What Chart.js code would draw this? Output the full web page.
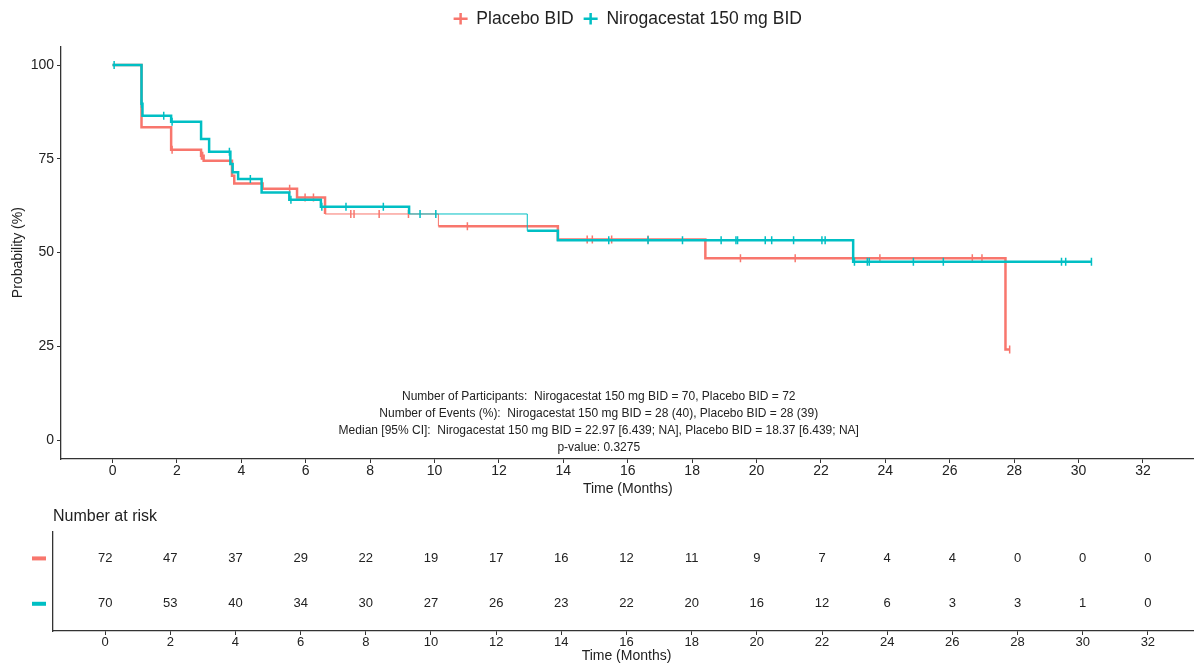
<!DOCTYPE html>
<html lang="en">
<head>
<meta charset="UTF-8">
<title>Kaplan-Meier: Nirogacestat vs Placebo</title>
<script src="https://cdn.jsdelivr.net/npm/chart.js"></script>
<style>
  html, body { margin: 0; padding: 0; background: #fff; overflow: hidden; }
  #wrap { position: relative; width: 1200px; height: 666px; }
  #kmChart { position: absolute; left: 0; top: 0; }
  #riskChart { position: absolute; left: 0; top: 500px; }
</style>
</head>
<body>
<div id="wrap">
  <canvas id="kmChart" width="1200" height="500"></canvas>
  <canvas id="riskChart" width="1200" height="166"></canvas>
</div>
<script>
// KM steps: time (months) and survival (%)
const placeboTimes = [0, 0.9, 1.82, 2.75, 2.83, 3.71, 3.78, 4.66, 5.73, 6.6, 10.12, 13.83, 18.41, 27.73, 27.86];
const placeboSurv  = [100, 83.4, 77.4, 75.8, 74.5, 70.5, 68.4, 67.0, 64.7, 60.3, 57.0, 53.5, 48.5, 24.2, 24.2];

const niroTimes = [0, 0.9, 0.93, 1.82, 2.75, 3.0, 3.66, 3.73, 3.9, 4.63, 5.49, 6.47, 9.21, 12.88, 13.83, 23.0, 30.4];
const niroSurv  = [100, 89.7, 86.5, 84.9, 80.3, 76.9, 73.6, 71.4, 69.6, 66.0, 64.1, 62.2, 60.3, 55.8, 53.3, 47.6, 47.6];

// censoring times
const placeboCensor = [1.85, 2.76, 2.8, 5.5, 5.98, 6.24, 7.4, 7.5, 8.28, 9.19, 11.02, 14.74, 14.9, 15.5, 16.63, 19.5, 21.2, 23.83, 26.7, 27.0, 27.86];
const niroCensor = [0.05, 0.9, 1.59, 1.85, 3.63, 4.28, 5.54, 6.5, 7.25, 8.41, 9.55, 10.04, 15.41, 16.63, 17.7, 18.9, 19.36, 19.41, 20.27, 20.47, 21.15, 22.03, 22.13, 23.04, 23.44, 23.5, 24.87, 25.8, 29.47, 29.6, 30.4];

// number at risk
const riskTimes = [0, 2, 4, 6, 8, 10, 12, 14, 16, 18, 20, 22, 24, 26, 28, 30, 32];
const riskPlacebo = [72, 47, 37, 29, 22, 19, 17, 16, 12, 11, 9, 7, 4, 4, 0, 0, 0];
const riskNiro = [70, 53, 40, 34, 30, 27, 26, 23, 22, 20, 16, 12, 6, 3, 3, 1, 0];

const xTicks = [0, 2, 4, 6, 8, 10, 12, 14, 16, 18, 20, 22, 24, 26, 28, 30, 32];
const yTicks = [0, 25, 50, 75, 100];

const notes = [
  'Number of Participants:  Nirogacestat 150 mg BID = 70, Placebo BID = 72',
  'Number of Events (%):  Nirogacestat 150 mg BID = 28 (40), Placebo BID = 28 (39)',
  'Median [95% CI]:  Nirogacestat 150 mg BID = 22.97 [6.439; NA], Placebo BID = 18.37 [6.439; NA]',
  'p-value: 0.3275'
];

const RED = '#F8766D';
const CYAN = '#00BFC4';
const AXIS = '#333';
const TXT = '#222';
Chart.defaults.font.family = '"Liberation Sans", Arial, sans-serif';
Chart.defaults.color = TXT;

function steps(times, surv) {
  return times.map((t, i) => ({ x: t, y: surv[i] }));
}
// y of a censor mark = KM value at that time
function survAt(times, surv, t) {
  let v = surv[0];
  for (let i = 0; i < times.length; i++) if (times[i] <= t) v = surv[i];
  return v;
}
function censorPts(ct, times, surv) {
  return ct.map(t => ({ x: t, y: survAt(times, surv, t) }));
}

const notesPlugin = {
  id: 'notes',
  afterDraw(chart) {
    const { ctx, chartArea, scales } = chart;
    const cx = scales.x.getPixelForValue(15.1);
    ctx.save();
    ctx.font = '12px "Liberation Sans", Arial, sans-serif';
    ctx.fillStyle = TXT;
    ctx.textAlign = 'center';
    ctx.textBaseline = 'middle';
    notes.forEach((s, i) => {
      ctx.fillText(s, cx, chartArea.bottom - 11.5 - 17 * (notes.length - 1 - i));
    });
    ctx.restore();
  }
};

new Chart(document.getElementById('kmChart'), {
  type: 'line',
  data: {
    datasets: [
      {
        label: 'Placebo BID',
        data: steps(placeboTimes, placeboSurv),
        stepped: true,
        borderColor: RED,
        backgroundColor: RED,
        borderWidth: 2.5,
        pointRadius: 0,
        pointStyle: 'cross',
        fill: false,
        order: 4,
        segment: { borderWidth: c => (c.p0.parsed.x > 6.5 && c.p0.parsed.x < 7) ? 1 : 2.5 }
      },
      {
        label: 'Nirogacestat 150 mg BID',
        data: steps(niroTimes, niroSurv),
        stepped: true,
        borderColor: CYAN,
        backgroundColor: CYAN,
        borderWidth: 2.5,
        pointRadius: 0,
        pointStyle: 'cross',
        fill: false,
        order: 2,
        segment: { borderWidth: c => (c.p0.parsed.x > 9 && c.p0.parsed.x < 9.5) ? 1 : 2.5 }
      },
      {
        label: '',
        data: censorPts(placeboCensor, placeboTimes, placeboSurv),
        showLine: false,
        pointStyle: 'line',
        rotation: 90,
        pointRadius: 4,
        pointBorderWidth: 1.5,
        pointBorderColor: RED,
        borderColor: RED,
        order: 3
      },
      {
        label: '',
        data: censorPts(niroCensor, niroTimes, niroSurv),
        showLine: false,
        pointStyle: 'line',
        rotation: 90,
        pointRadius: 4,
        pointBorderWidth: 1.5,
        pointBorderColor: CYAN,
        borderColor: CYAN,
        order: 1
      }
    ]
  },
  options: {
    responsive: false,
    animation: false,
    layout: { padding: { left: 0, right: 2, top: 0, bottom: 0 } },
    plugins: {
      legend: {
        position: 'top',
        fullSize: false,
        labels: {
          filter: item => item.text !== '',
          sort: (a, b) => a.datasetIndex - b.datasetIndex,
          usePointStyle: true,
          pointStyleWidth: 14,
          boxHeight: 8,
          padding: 10,
          color: TXT,
          font: { size: 17.5 }
        }
      },
      subtitle: { display: true, text: '', weight: 500, padding: 0, font: { size: 8.75, lineHeight: 1 } },
      tooltip: { enabled: false }
    },
    scales: {
      x: {
        type: 'linear',
        min: -1.6,
        max: 33.6,
        afterBuildTicks: s => { s.ticks = xTicks.map(v => ({ value: v })); },
        afterFit: s => { s.height = 41; },
        grid: { drawOnChartArea: false, drawTicks: true, tickLength: 4, color: AXIS },
        border: { display: true, color: AXIS, width: 1.3 },
        ticks: { font: { size: 14 }, color: TXT, padding: 0, maxRotation: 0 },
        title: { display: true, text: 'Time (Months)', font: { size: 14 }, color: TXT, padding: { top: 0, bottom: 2 } }
      },
      y: {
        type: 'linear',
        min: -5,
        max: 105,
        afterBuildTicks: s => { s.ticks = yTicks.map(v => ({ value: v })); },
        afterFit: s => { s.width = 61; },
        grid: { drawOnChartArea: false, drawTicks: true, tickLength: 4, color: AXIS },
        border: { display: true, color: AXIS, width: 1.3 },
        ticks: { font: { size: 14 }, color: TXT, padding: 3 },
        title: { display: true, text: 'Probability (%)', font: { size: 14 }, color: TXT, padding: { top: 10, bottom: 0 } }
      }
    }
  },
  plugins: [notesPlugin]
});

// risk table: numbers drawn at the point positions, colour keys at the left
const riskPlugin = {
  id: 'riskText',
  afterDatasetsDraw(chart) {
    const { ctx, scales } = chart;
    ctx.save();
    ctx.font = '13px "Liberation Sans", Arial, sans-serif';
    ctx.fillStyle = TXT;
    ctx.textAlign = 'center';
    ctx.textBaseline = 'middle';
    chart.data.datasets.forEach((ds, di) => {
      const meta = chart.getDatasetMeta(di);
      meta.data.forEach((el, i) => ctx.fillText(String(ds.counts[i]), el.x, el.y));
      const yy = scales.y.getPixelForValue(ds.data[0].y);
      ctx.fillStyle = ds.borderColor;
      ctx.fillRect(32, yy - 2, 14, 4);
      ctx.fillStyle = TXT;
    });
    ctx.restore();
  }
};

new Chart(document.getElementById('riskChart'), {
  type: 'scatter',
  data: {
    datasets: [
      { data: riskTimes.map(t => ({ x: t, y: 2 })), counts: riskPlacebo, borderColor: RED, pointRadius: 0 },
      { data: riskTimes.map(t => ({ x: t, y: 1 })), counts: riskNiro, borderColor: CYAN, pointRadius: 0 }
    ]
  },
  options: {
    responsive: false,
    animation: false,
    layout: { padding: { left: 0, right: 0, top: 0, bottom: 0 } },
    plugins: {
      legend: { display: false },
      tooltip: { enabled: false },
      title: {
        display: true,
        text: 'Number at risk',
        align: 'start',
        fullSize: false,
        color: TXT,
        font: { size: 16, weight: 'normal' },
        padding: { top: 7, bottom: 5 }
      }
    },
    scales: {
      x: {
        type: 'linear',
        min: -1.6,
        max: 33.6,
        afterBuildTicks: s => { s.ticks = xTicks.map(v => ({ value: v })); },
        afterFit: s => { s.height = 35; },
        grid: { drawOnChartArea: false, drawTicks: true, tickLength: 4, color: AXIS },
        border: { display: true, color: AXIS, width: 1.3 },
        ticks: { font: { size: 13 }, color: TXT, padding: 0, maxRotation: 0 },
        title: { display: true, text: 'Time (Months)', font: { size: 14 }, color: TXT, padding: { top: 0, bottom: 1 } }
      },
      y: {
        type: 'linear',
        min: 0.4,
        max: 2.6,
        afterFit: s => { s.width = 53; },
        grid: { drawOnChartArea: false, drawTicks: false },
        border: { display: true, color: AXIS, width: 1.3 },
        ticks: { display: false }
      }
    }
  },
  plugins: [riskPlugin]
});
</script>
</body>
</html>
